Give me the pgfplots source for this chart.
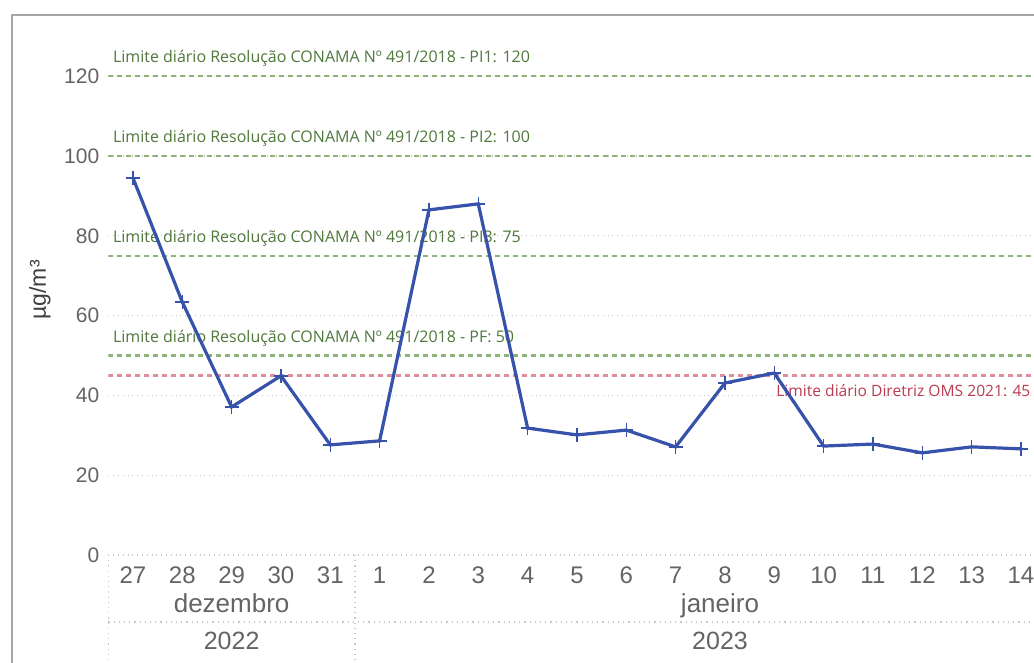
\documentclass[border=0pt]{standalone}
\usepackage{fontspec}
\setmainfont{Liberation Sans}
\newfontfamily\lblfont{Open Sans}
\usepackage{pgfplots}
\pgfplotsset{compat=1.18}

\definecolor{serie}{RGB}{55,82,170}
\definecolor{limverde}{RGB}{140,180,120}
\definecolor{txtverde}{RGB}{80,120,60}
\definecolor{limverm}{RGB}{225,140,155}
\definecolor{txtverm}{RGB}{185,60,80}
\definecolor{grade}{RGB}{200,200,200}
\definecolor{tick}{RGB}{100,100,100}

\begin{document}
\begin{tikzpicture}[x=0.5pt,y=0.5pt]
% 1 px do original = 0.5pt
\clip (0,0) rectangle (1034,663);
\fill[white] (0,0) rectangle (1034,663);
% moldura do visual
\draw[gray!70, line width=1pt] (12,0) -- (12,648) -- (1034,648);

\begin{axis}[
    at={(54.15pt,54pt)}, anchor=south west,
    scale only axis,
    width=462.85pt, height=259.35pt,
    xmin=-0.5, xmax=18.265,
    ymin=0, ymax=130,
    axis line style={draw=none},
    tick style={draw=none},
    clip mode=individual,
    /pgf/number format/assume math mode=true,
    xtick={0,...,18},
    xticklabels={27,28,29,30,31,1,2,3,4,5,6,7,8,9,10,11,12,13,14},
    ytick={0,20,40,60,80,100,120},
    tick label style={font=\fontsize{10.5}{12}\selectfont, text=tick},
    xticklabel style={font=\fontsize{12}{13}\selectfont, yshift=-2.5pt},
    yticklabel style={xshift=-1pt},
    ymajorgrids,
    grid style={grade, dotted, line width=0.6pt},
    major tick length=0pt,
    ylabel={µg/m³},
    ylabel style={font=\fontsize{11.5}{13}\selectfont, text=black!75, at={(axis description cs:-0.0738,0.511)}, anchor=center},
]
% linhas de referencia
\addplot[limverde, line width=1.2pt, dash pattern=on 2.5pt off 2pt, forget plot] coordinates {(-0.5,120) (18.265,120)};
\addplot[limverde, line width=1.2pt, dash pattern=on 2.5pt off 2pt, forget plot] coordinates {(-0.5,100) (18.265,100)};
\addplot[limverde, line width=1.2pt, dash pattern=on 2.5pt off 2pt, forget plot] coordinates {(-0.5,75) (18.265,75)};
\addplot[limverde, line width=1.2pt, dash pattern=on 2.5pt off 2pt, forget plot] coordinates {(-0.5,50) (18.265,50)};
\addplot[limverm, line width=1.2pt, dash pattern=on 2.5pt off 2pt, forget plot] coordinates {(-0.5,45) (18.265,45)};

\node[anchor=south west, inner sep=0pt, font=\lblfont\fontsize{8}{9}\selectfont, text=txtverde] at (axis cs:-0.41,122.3) {Limite diário Resolução CONAMA Nº 491/2018 - PI1: 120};
\node[anchor=south west, inner sep=0pt, font=\lblfont\fontsize{8}{9}\selectfont, text=txtverde] at (axis cs:-0.41,102.3) {Limite diário Resolução CONAMA Nº 491/2018 - PI2: 100};
\node[anchor=south west, inner sep=0pt, font=\lblfont\fontsize{8}{9}\selectfont, text=txtverde] at (axis cs:-0.41,77.3) {Limite diário Resolução CONAMA Nº 491/2018 - PI3: 75};
\node[anchor=south west, inner sep=0pt, font=\lblfont\fontsize{8}{9}\selectfont, text=txtverde] at (axis cs:-0.41,52.3) {Limite diário Resolução CONAMA Nº 491/2018 - PF: 50};
\node[anchor=north east, inner sep=0pt, font=\lblfont\fontsize{7.8}{9}\selectfont, text=txtverm] at (axis cs:18.2,42.8) {Limite diário Diretriz OMS 2021: 45};

% serie
\addplot[serie, line width=1.6pt, mark=+, mark size=3.5pt, mark options={line width=0.7pt}] coordinates {
    (0,94.5) (1,63.4) (2,37.1) (3,44.9) (4,27.6)
    (5,28.6) (6,86.5) (7,88.0) (8,31.8) (9,30.1)
    (10,31.3) (11,27.1) (12,43.1) (13,45.6) (14,27.3)
    (15,27.8) (16,25.6) (17,27.1) (18,26.6)
};

% eixo hierarquico: separadores e rotulos
\draw[grade, dotted, line width=0.6pt] (axis cs:-0.5,0) -- (axis cs:-0.5,-27.2);
\draw[grade, dotted, line width=0.6pt] (axis cs:4.5,0) -- (axis cs:4.5,-27.2);
\draw[grade, dotted, line width=0.6pt] (axis cs:-0.5,-16.8) -- (axis cs:18.3,-16.8);
\node[font=\fontsize{13}{14}\selectfont, text=tick, text height=1.5ex, text depth=0.4ex] at (axis cs:2,0) [yshift=-26pt] {dezembro};
\node[font=\fontsize{13}{14}\selectfont, text=tick, text height=1.5ex, text depth=0.4ex] at (axis cs:11.9,0) [yshift=-26pt] {janeiro};
\node[font=\fontsize{12.5}{14}\selectfont, text=tick] at (axis cs:2,0) [yshift=-43pt] {2022};
\node[font=\fontsize{12.5}{14}\selectfont, text=tick] at (axis cs:11.9,0) [yshift=-43pt] {2023};
\end{axis}
\end{tikzpicture}
\end{document}
